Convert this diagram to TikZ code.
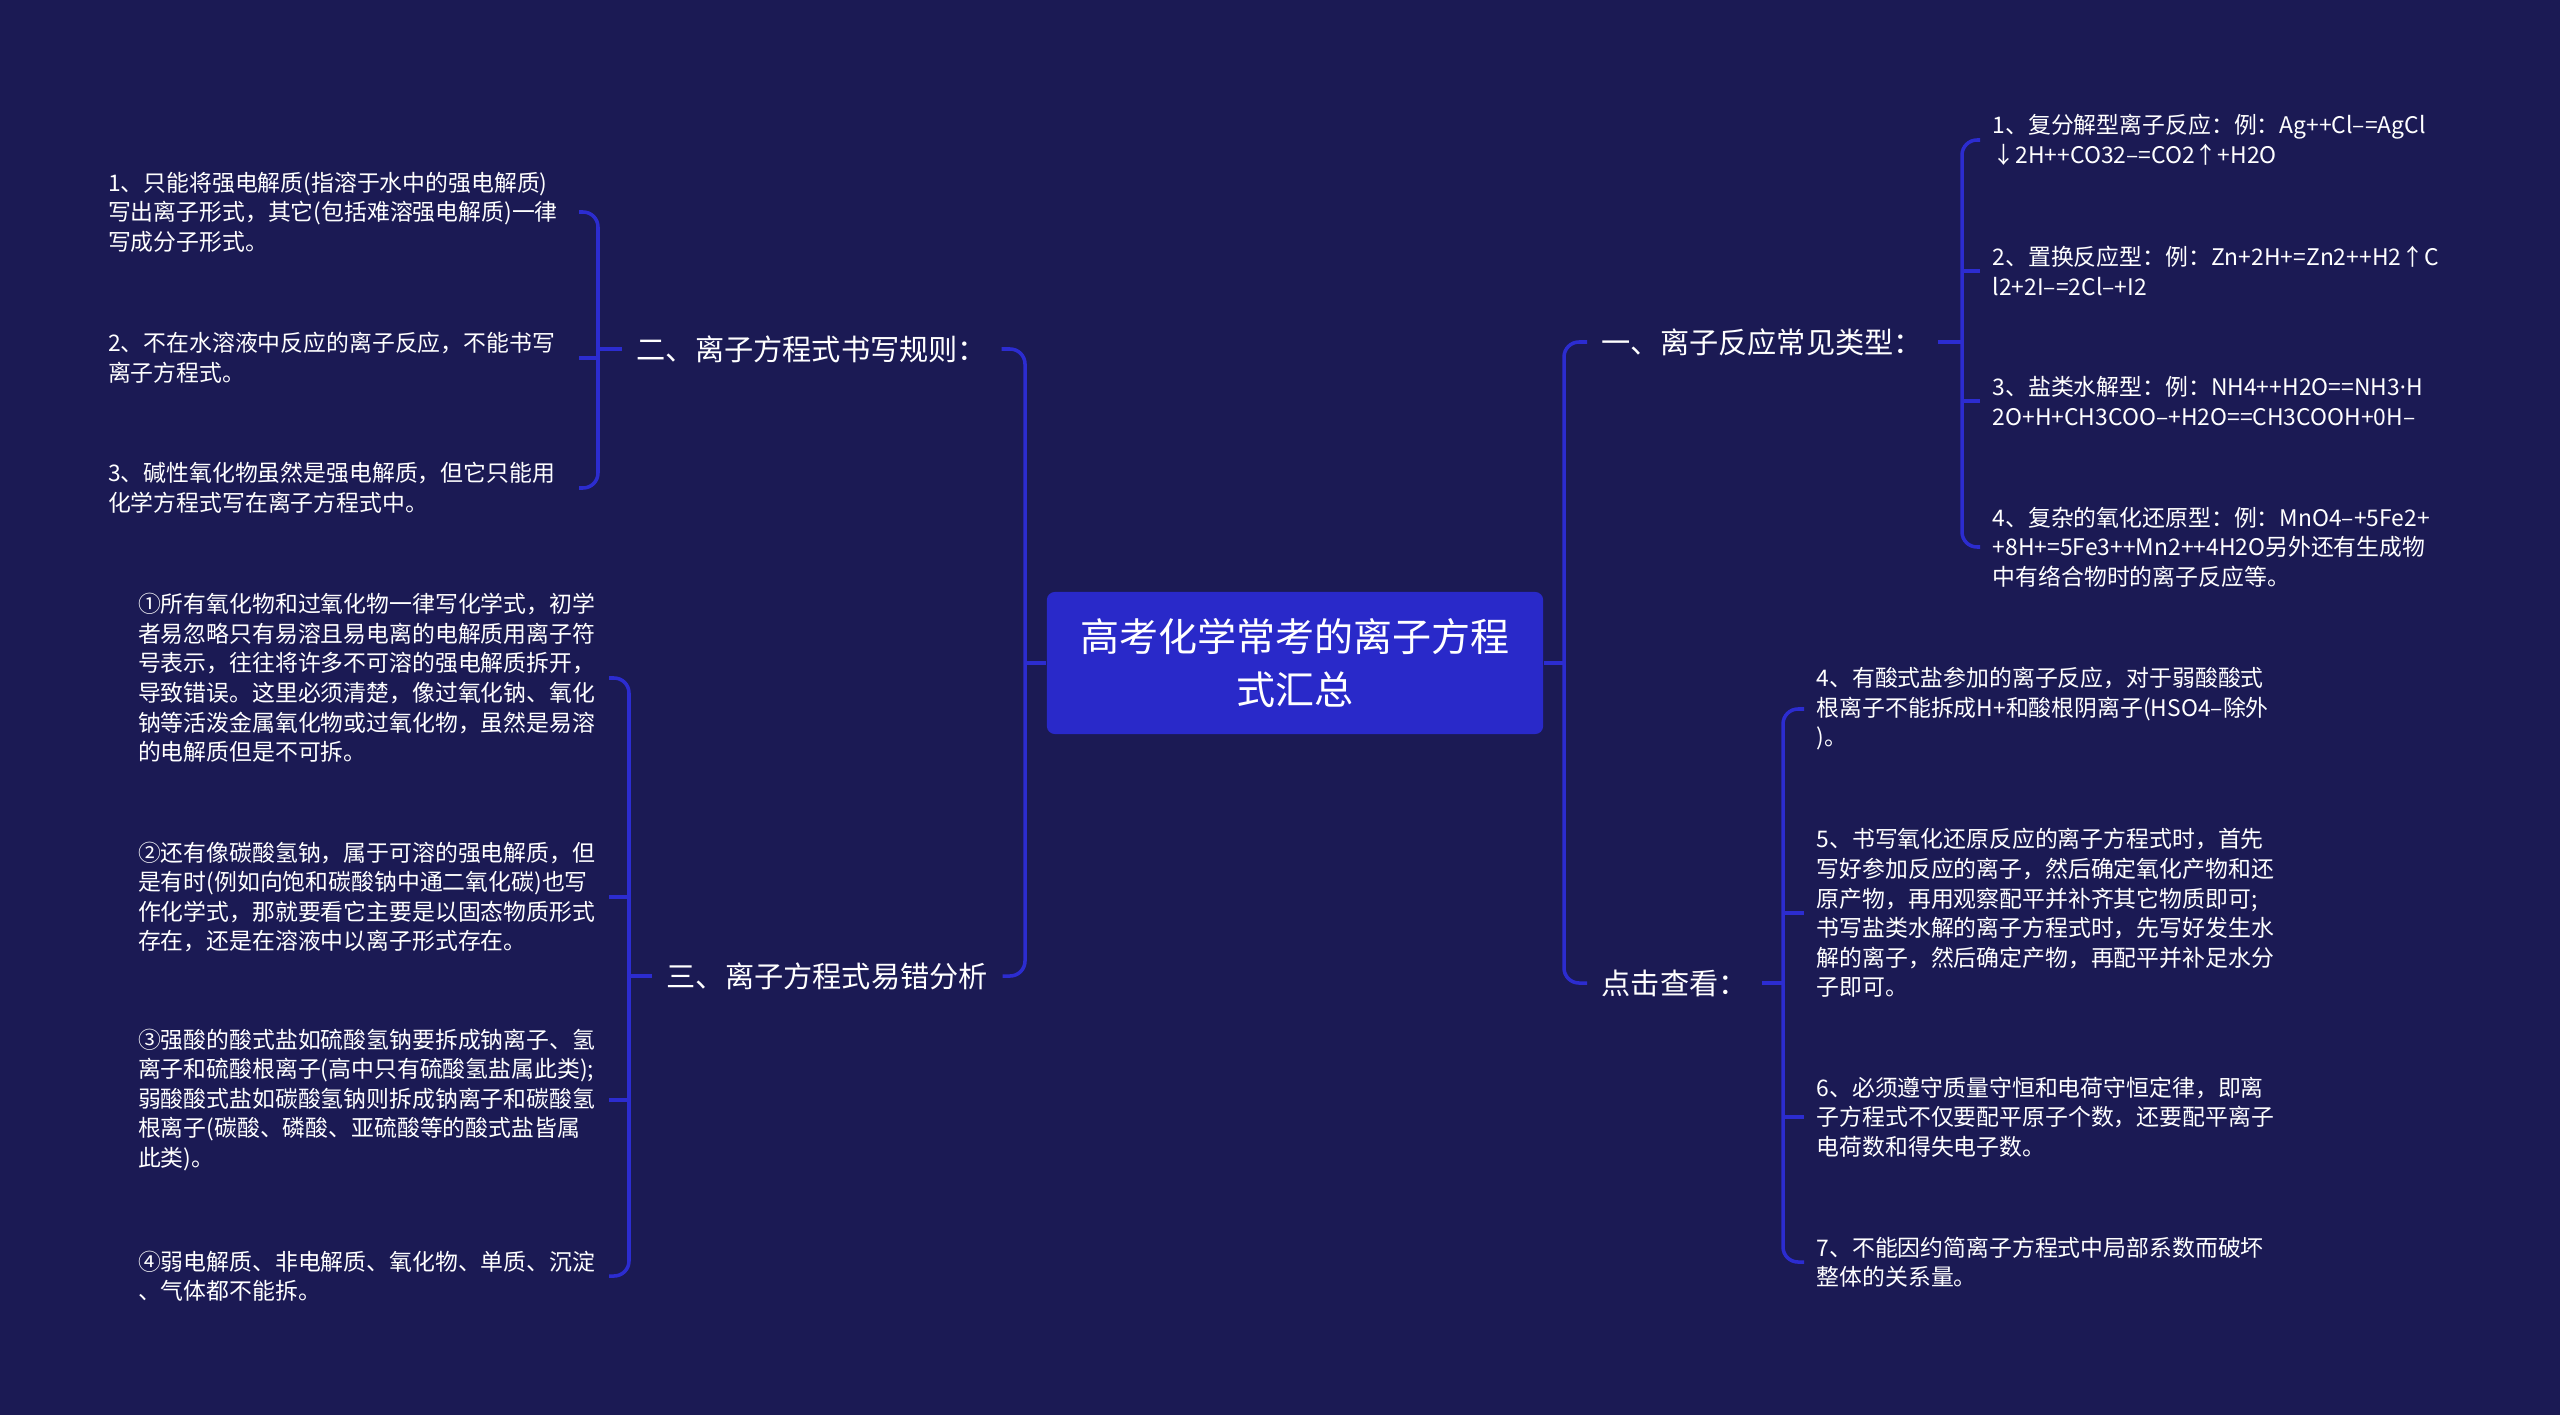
\documentclass[tikz,border=0pt]{standalone}
\usepackage{fontspec}
\newfontfamily\cjk{Noto Sans CJK SC}
\newfontfamily\latinsans{Noto Sans}
\usepackage{xcolor}
\usepackage{tikz}
\usetikzlibrary{
  positioning,
  calc,
}
\definecolor{bgnavy}{RGB}{27,26,84}
\definecolor{boxblue}{RGB}{41,41,201}
\definecolor{linkblue}{RGB}{44,44,208}

\begin{document}
\begin{tikzpicture}[
  x=0.01cm, y=-0.01cm,
  every node/.style={text=white, font=\cjk},
  root/.style={fill=boxblue, rounded corners=0.08cm, minimum width=4.96cm,
    minimum height=1.42cm, align=center,
    font={\cjk\fontsize{11.1}{14.8}\selectfont}},
  branch/.style={inner xsep=0.14cm, font={\cjk\fontsize{8.3}{10}\selectfont}},
  leaf/.style={inner xsep=0.12cm, text width=4.58cm, align=left,
    font={\cjk\fontsize{6.5}{8.4}\selectfont}},
  link/.style={draw=linkblue, line width=1pt, rounded corners=0.15cm},
]

\fill[bgnavy] (0,0) rectangle (2560,1415);

\node[root] (top) at (1295,663) {高考化学常考的离子方程\\式汇总};

\node[branch, anchor=west] (rule) at (622,349) {二、离子方程式书写规则：};
\node[branch, anchor=west] (err) at (652,976) {三、离子方程式易错分析};
\node[branch, anchor=west] (kind) at (1587,342) {一、离子反应常见类型：};
\node[branch, anchor=west] (more) at (1587,983) {点击查看：};

\node[leaf, anchor=east] (rule1) at (579,212)
  {1、只能将强电解质(指溶于水中的强电解质)\\写出离子形式，其它(包括难溶强电解质)一律\\写成分子形式。};
\node[leaf, anchor=east] (rule2) at (579,358)
  {2、不在水溶液中反应的离子反应，不能书写\\离子方程式。};
\node[leaf, anchor=east] (rule3) at (579,488)
  {3、碱性氧化物虽然是强电解质，但它只能用\\化学方程式写在离子方程式中。};

\node[leaf, anchor=east] (err1) at (609,678)
  {①所有氧化物和过氧化物一律写化学式，初学\\者易忽略只有易溶且易电离的电解质用离子符\\号表示，往往将许多不可溶的强电解质拆开，\\导致错误。这里必须清楚，像过氧化钠、氧化\\钠等活泼金属氧化物或过氧化物，虽然是易溶\\的电解质但是不可拆。};
\node[leaf, anchor=east] (err2) at (609,897)
  {②还有像碳酸氢钠，属于可溶的强电解质，但\\是有时(例如向饱和碳酸钠中通二氧化碳)也写\\作化学式，那就要看它主要是以固态物质形式\\存在，还是在溶液中以离子形式存在。};
\node[leaf, anchor=east] (err3) at (609,1100)
  {③强酸的酸式盐如硫酸氢钠要拆成钠离子、氢\\离子和硫酸根离子(高中只有硫酸氢盐属此类);\\弱酸酸式盐如碳酸氢钠则拆成钠离子和碳酸氢\\根离子(碳酸、磷酸、亚硫酸等的酸式盐皆属\\此类)。};
\node[leaf, anchor=east] (err4) at (609,1276)
  {④弱电解质、非电解质、氧化物、单质、沉淀\\、气体都不能拆。};

\node[leaf, anchor=west] (kind1) at (1980,140)
  {1、复分解型离子反应：例：Ag++Cl–=AgCl\\↓2H++CO32–=CO2↑+H2O};
\node[leaf, anchor=west] (kind2) at (1980,271)
  {2、置换反应型：例：Zn+2H+=Zn2++H2↑C\\l2+2I–=2Cl–+I2};
\node[leaf, anchor=west] (kind3) at (1980,401)
  {3、盐类水解型：例：NH4++H2O==NH3{\latinsans ·}H\\2O+H+CH3COO–+H2O==CH3COOH+0H–};
\node[leaf, anchor=west] (kind4) at (1980,547)
  {4、复杂的氧化还原型：例：MnO4–+5Fe2+\\+8H+=5Fe3++Mn2++4H2O另外还有生成物\\中有络合物时的离子反应等。};

\node[leaf, anchor=west] (more1) at (1804,709)
  {4、有酸式盐参加的离子反应，对于弱酸酸式\\根离子不能拆成H+和酸根阴离子(HSO4–除外\\)。};
\node[leaf, anchor=west] (more2) at (1804,913)
  {5、书写氧化还原反应的离子方程式时，首先\\写好参加反应的离子，然后确定氧化产物和还\\原产物，再用观察配平并补齐其它物质即可;\\书写盐类水解的离子方程式时，先写好发生水\\解的离子，然后确定产物，再配平并补足水分\\子即可。};
\node[leaf, anchor=west] (more3) at (1804,1117)
  {6、必须遵守质量守恒和电荷守恒定律，即离\\子方程式不仅要配平原子个数，还要配平离子\\电荷数和得失电子数。};
\node[leaf, anchor=west] (more4) at (1804,1262)
  {7、不能因约简离子方程式中局部系数而破坏\\整体的关系量。};

\coordinate (tl) at (1025,663);
\coordinate (tr) at (1564,663);
\coordinate (brule) at (598,349);
\coordinate (berr) at (629,976);
\coordinate (bkind) at (1962,342);
\coordinate (bmore) at (1783,983);

\draw[link] (top.west) -- (tl);
\draw[link] (rule.east) -| (tl) |- (err.east);
\draw[link] (top.east) -- (tr);
\draw[link] (kind.west) -| (tr) |- (more.west);

\draw[link] (rule.west) -- (brule);
\draw[link] (rule1.east) -| (brule) |- (rule3.east);
\draw[link] (rule2.east) -- (rule2.east -| brule);

\draw[link] (err.west) -- (berr);
\draw[link] (err1.east) -| (berr) |- (err4.east);
\draw[link] (err2.east) -- (err2.east -| berr);
\draw[link] (err3.east) -- (err3.east -| berr);

\draw[link] (kind.east) -- (bkind);
\draw[link] (kind1.west) -| (bkind) |- (kind4.west);
\draw[link] (kind2.west) -- (kind2.west -| bkind);
\draw[link] (kind3.west) -- (kind3.west -| bkind);

\draw[link] (more.east) -- (bmore);
\draw[link] (more1.west) -| (bmore) |- (more4.west);
\draw[link] (more2.west) -- (more2.west -| bmore);
\draw[link] (more3.west) -- (more3.west -| bmore);

\end{tikzpicture}
\end{document}
